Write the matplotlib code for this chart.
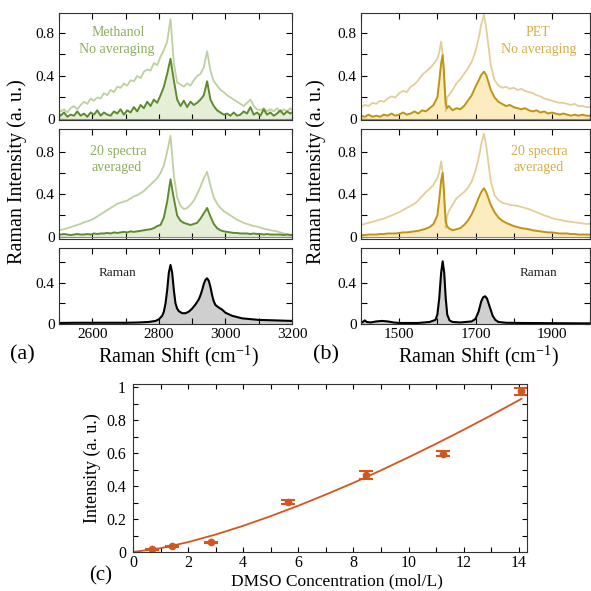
import matplotlib
matplotlib.use('Agg')
import matplotlib.pyplot as plt
import numpy as np
from matplotlib.ticker import FixedLocator, FuncFormatter, MultipleLocator

plt.rcParams['font.family'] = ['Liberation Serif', 'DejaVu Serif']
plt.rcParams['mathtext.fontset'] = 'custom'
plt.rcParams['mathtext.rm'] = 'Liberation Serif'
plt.rcParams['mathtext.default'] = 'regular'

# ---------------- Panel (a): methanol ----------------
a_x = np.concatenate([[2500], np.arange(2505, 3200, 10), [3200]])
a_top_light = [0.08, 0.07, 0.09, 0.06, 0.10, 0.12, 0.09, 0.13, 0.16, 0.14, 0.19, 0.17, 0.20, 0.19, 0.24, 0.22,
               0.27, 0.25, 0.30, 0.29, 0.33, 0.31, 0.36, 0.35, 0.40, 0.38, 0.44, 0.46, 0.45, 0.52, 0.50, 0.58,
               0.64, 0.72, 0.93, 0.52, 0.34, 0.32, 0.30, 0.33, 0.31, 0.36, 0.40, 0.42, 0.48, 0.63, 0.45, 0.35,
               0.31, 0.27, 0.25, 0.22, 0.20, 0.18, 0.16, 0.14, 0.12, 0.15, 0.18, 0.12, 0.09, 0.08, 0.10, 0.07,
               0.09, 0.07, 0.10, 0.06, 0.09, 0.07, 0.10, 0.08]
a_top_dark = [0.05, 0.03, 0.06, 0.02, 0.04, 0.03, 0.07, 0.03, 0.05, 0.02, 0.06, 0.04, 0.08, 0.03, 0.06, 0.04,
              0.03, 0.07, 0.05, 0.09, 0.04, 0.08, 0.06, 0.11, 0.07, 0.13, 0.10, 0.16, 0.12, 0.18, 0.15, 0.22,
              0.30, 0.42, 0.56, 0.36, 0.18, 0.12, 0.17, 0.11, 0.16, 0.13, 0.15, 0.18, 0.22, 0.35, 0.18, 0.12,
              0.08, 0.06, 0.04, 0.05, 0.03, 0.06, 0.03, 0.04, 0.07, 0.05, 0.11, 0.04, 0.06, 0.03, 0.09, 0.04,
              0.06, 0.03, 0.05, 0.08, 0.04, 0.07, 0.05, 0.06]
a_mid_light = [0.06, 0.065, 0.07, 0.08, 0.09, 0.10, 0.11, 0.12, 0.135, 0.145, 0.155, 0.17, 0.19, 0.21, 0.23, 0.25,
               0.27, 0.29, 0.31, 0.32, 0.33, 0.34, 0.36, 0.38, 0.39, 0.41, 0.43, 0.46, 0.49, 0.52, 0.55, 0.60,
               0.67, 0.80, 0.95, 0.58, 0.37, 0.29, 0.26, 0.27, 0.30, 0.34, 0.40, 0.47, 0.55, 0.61, 0.48, 0.37,
               0.31, 0.27, 0.24, 0.22, 0.20, 0.18, 0.16, 0.145, 0.13, 0.12, 0.11, 0.10, 0.095, 0.085, 0.075, 0.07,
               0.06, 0.055, 0.05, 0.04, 0.03, 0.025, 0.02, 0.02]
a_mid_dark = [0.02, 0.02, 0.025, 0.02, 0.015, 0.02, 0.025, 0.02, 0.02, 0.025, 0.02, 0.03, 0.025, 0.03, 0.03, 0.035,
              0.03, 0.04, 0.035, 0.04, 0.045, 0.04, 0.05, 0.045, 0.05, 0.055, 0.06, 0.065, 0.07, 0.08, 0.10, 0.11,
              0.18, 0.33, 0.54, 0.36, 0.20, 0.15, 0.13, 0.12, 0.11, 0.12, 0.13, 0.17, 0.22, 0.27, 0.19, 0.12,
              0.08, 0.06, 0.05, 0.045, 0.04, 0.035, 0.035, 0.03, 0.03, 0.03, 0.025, 0.03, 0.025, 0.025, 0.02, 0.025,
              0.02, 0.02, 0.02, 0.02, 0.015, 0.02, 0.015, 0.015]
a_raman_x = [2500, 2550, 2600, 2650, 2700, 2740, 2770, 2790, 2800, 2810, 2815, 2820, 2825, 2830, 2835, 2840, 2845,
             2850, 2855, 2860, 2870, 2880, 2890, 2900, 2910, 2920, 2925, 2930, 2935, 2940, 2945, 2950, 2955, 2960,
             2965, 2970, 2980, 2990, 3000, 3020, 3050, 3100, 3150, 3200]
a_raman_y = [0.01, 0.012, 0.012, 0.012, 0.012, 0.015, 0.02, 0.03, 0.045, 0.08, 0.12, 0.2, 0.33, 0.5, 0.575, 0.5,
             0.33, 0.2, 0.15, 0.125, 0.105, 0.105, 0.12, 0.15, 0.19, 0.24, 0.28, 0.33, 0.39, 0.43, 0.445, 0.42,
             0.36, 0.28, 0.22, 0.185, 0.16, 0.14, 0.11, 0.08, 0.055, 0.04, 0.035, 0.03]

# ---------------- Panel (b): PET ----------------
b_x = [1400, 1410, 1420, 1430, 1440, 1450, 1460, 1470, 1480, 1490, 1500, 1510, 1520, 1530, 1540, 1550, 1560, 1570,
       1580, 1590, 1600, 1605, 1610, 1614, 1617, 1620, 1622, 1625, 1630, 1640, 1650, 1660, 1670, 1680, 1690, 1700,
       1710, 1715, 1722, 1728, 1735, 1740, 1750, 1760, 1770, 1780, 1790, 1800, 1810, 1820, 1830, 1840, 1850, 1860,
       1870, 1880, 1890, 1900, 1910, 1920, 1930, 1940, 1950, 1960, 1970, 1980, 1990, 2000]
b_top_light = [0.11, 0.13, 0.12, 0.15, 0.14, 0.17, 0.16, 0.19, 0.21, 0.20, 0.24, 0.26, 0.25, 0.30, 0.32, 0.36, 0.41,
               0.44, 0.47, 0.51, 0.56, 0.62, 0.72, 0.60, 0.45, 0.25, 0.07, 0.20, 0.22, 0.27, 0.33, 0.37, 0.42, 0.47,
               0.53, 0.63, 0.78, 0.88, 0.97, 0.85, 0.65, 0.50, 0.36, 0.31, 0.29, 0.30, 0.28, 0.29, 0.27, 0.28, 0.26,
               0.25, 0.24, 0.22, 0.21, 0.19, 0.18, 0.17, 0.16, 0.15, 0.15, 0.14, 0.13, 0.14, 0.12, 0.12, 0.11, 0.11]
b_top_dark = [0.03, 0.02, 0.04, 0.02, 0.03, 0.02, 0.04, 0.03, 0.05, 0.03, 0.04, 0.06, 0.04, 0.05, 0.07, 0.05, 0.08,
              0.07, 0.10, 0.13, 0.20, 0.35, 0.52, 0.595, 0.45, 0.25, 0.15, 0.10, 0.12, 0.08, 0.10, 0.09, 0.12, 0.17,
              0.22, 0.30, 0.37, 0.41, 0.44, 0.41, 0.33, 0.27, 0.20, 0.16, 0.14, 0.12, 0.13, 0.11, 0.10, 0.09, 0.10,
              0.08, 0.07, 0.08, 0.06, 0.07, 0.05, 0.06, 0.05, 0.04, 0.05, 0.04, 0.03, 0.04, 0.03, 0.04, 0.03, 0.03]
b_mid_light = [0.11, 0.12, 0.13, 0.14, 0.15, 0.16, 0.17, 0.185, 0.20, 0.215, 0.23, 0.25, 0.27, 0.29, 0.31, 0.34, 0.38,
               0.42, 0.45, 0.49, 0.55, 0.61, 0.71, 0.60, 0.42, 0.22, 0.08, 0.19, 0.24, 0.30, 0.36, 0.39, 0.42, 0.46,
               0.52, 0.62, 0.77, 0.87, 0.97, 0.86, 0.66, 0.52, 0.39, 0.345, 0.32, 0.31, 0.30, 0.295, 0.29, 0.28,
               0.27, 0.26, 0.245, 0.23, 0.215, 0.20, 0.19, 0.175, 0.165, 0.16, 0.15, 0.145, 0.14, 0.135, 0.13,
               0.125, 0.12, 0.12]
b_mid_dark = [0.015, 0.015, 0.02, 0.02, 0.02, 0.025, 0.025, 0.03, 0.03, 0.03, 0.035, 0.04, 0.04, 0.045, 0.05, 0.055,
              0.065, 0.075, 0.09, 0.12, 0.2, 0.35, 0.53, 0.60, 0.45, 0.25, 0.15, 0.10, 0.08, 0.06, 0.07, 0.08, 0.11,
              0.15, 0.21, 0.29, 0.38, 0.42, 0.455, 0.42, 0.35, 0.30, 0.23, 0.18, 0.15, 0.13, 0.115, 0.10, 0.09,
              0.08, 0.075, 0.07, 0.06, 0.055, 0.05, 0.045, 0.04, 0.04, 0.035, 0.03, 0.03, 0.03, 0.025, 0.025,
              0.02, 0.02, 0.02, 0.02]
b_raman_x = [1400, 1405, 1410, 1415, 1425, 1440, 1455, 1470, 1485, 1500, 1550, 1580, 1595, 1600, 1605, 1610, 1614,
             1618, 1622, 1626, 1632, 1640, 1660, 1690, 1700, 1708, 1715, 1720, 1725, 1730, 1737, 1745, 1752, 1760,
             1780, 1820, 1900, 2000]
b_raman_y = [0.01, 0.02, 0.035, 0.02, 0.015, 0.025, 0.03, 0.025, 0.015, 0.01, 0.01, 0.02, 0.04, 0.09, 0.25, 0.5,
             0.61, 0.5, 0.25, 0.09, 0.035, 0.02, 0.015, 0.025, 0.05, 0.12, 0.22, 0.26, 0.27, 0.25, 0.17, 0.08,
             0.04, 0.02, 0.012, 0.01, 0.008, 0.006]

# ---------------- Panel (c): DMSO ----------------
c_conc = [0.70, 1.41, 2.82, 5.63, 8.45, 11.26, 14.08]
c_int = [0.016, 0.034, 0.058, 0.302, 0.467, 0.597, 0.975]
c_err = [0.005, 0.005, 0.005, 0.012, 0.025, 0.014, 0.02]
fit_x = [0, 1, 2, 3, 4, 5, 6, 7, 8, 9, 10, 11, 12, 13, 14, 14.1]
fit_y = [0.0, 0.023, 0.060, 0.106, 0.159, 0.218, 0.281, 0.349, 0.420, 0.496, 0.575, 0.657, 0.742, 0.830,
         0.921, 0.93]

# colours
G_DARK, G_LIGHT, G_FILL, G_TEXT = '#5e8b2e', '#bdd0a0', '#e5efd8', '#8dad5e'
Y_DARK, Y_LIGHT, Y_FILL, Y_TEXT = '#bf9414', '#e2cf98', '#fdecc0', '#d5ae48'
ORANGE = '#d4561f'

W = H = 591
fig = plt.figure(figsize=(5.91, 5.91), dpi=100)


def add_ax(l, t, r, b):
    return fig.add_axes([l / W, 1 - b / H, (r - l) / W, (b - t) / H])


def ylab_fmt(shown):
    def f(v, pos):
        for s in shown:
            if abs(v - s) < 1e-6:
                return ('%g' % s)
        return ''
    return FuncFormatter(f)


def style(ax, xlim, ylim, xticks, yticks, shown, labelbottom):
    ax.set_xlim(*xlim)
    ax.set_ylim(*ylim)
    ax.xaxis.set_major_locator(FixedLocator(xticks))
    ax.yaxis.set_major_locator(FixedLocator(yticks))
    ax.yaxis.set_major_formatter(ylab_fmt(shown))
    ax.tick_params(direction='in', top=True, right=True, length=4, width=0.8, labelsize=11,
                   labelbottom=labelbottom, pad=3)
    for s in ax.spines.values():
        s.set_linewidth(0.8)
        s.set_color('#333333')


def spectra_panel(l, r, xlim, xticks, x, light_top, dark_top, light_mid, dark_mid, rx, ry,
                  cdark, clight, cfill):
    ax1 = add_ax(l, 13, r, 120)
    ax1.fill_between(x, 0, dark_top, color=cfill, lw=0)
    ax1.axhline(0, color='#8a8a8a', lw=0.8)
    ax1.plot(x, light_top, color=clight, lw=1.3)
    ax1.plot(x, dark_top, color=cdark, lw=1.4)
    style(ax1, xlim, (-0.01, 0.986), xticks, [0, 0.2, 0.4, 0.6, 0.8], [0, 0.4, 0.8], False)

    ax2 = add_ax(l, 129, r, 239)
    ax2.fill_between(x, 0, dark_mid, color=cfill, lw=0)
    ax2.axhline(0, color='#8a8a8a', lw=0.8)
    ax2.plot(x, light_mid, color=clight, lw=1.3)
    ax2.plot(x, dark_mid, color=cdark, lw=1.4)
    style(ax2, xlim, (-0.022, 1.014), xticks, [0, 0.2, 0.4, 0.6, 0.8], [0, 0.4, 0.8], False)

    ax3 = add_ax(l, 248, r, 324)
    ax3.fill_between(rx, 0, ry, color='#cfcfcf', lw=0)
    ax3.plot(rx, ry, color='black', lw=1.5)
    style(ax3, xlim, (0, 0.74), xticks, [0, 0.2, 0.4, 0.6], [0, 0.4], True)
    return ax1, ax2, ax3


# (a)
a1, a2, a3 = spectra_panel(59, 292, (2500, 3200), np.arange(2500, 3201, 100), a_x,
                           a_top_light, a_top_dark, a_mid_light, a_mid_dark, a_raman_x, a_raman_y,
                           G_DARK, G_LIGHT, G_FILL)
a3.xaxis.set_major_formatter(FuncFormatter(lambda v, p: '%d' % v if int(v) % 200 == 0 else ''))
# (b)
b1, b2, b3 = spectra_panel(361, 590, (1400, 2000), np.arange(1400, 2001, 100), b_x,
                           b_top_light, b_top_dark, b_mid_light, b_mid_dark, b_raman_x, b_raman_y,
                           Y_DARK, Y_LIGHT, Y_FILL)
b3.xaxis.set_major_formatter(FuncFormatter(lambda v, p: '%d' % v if int(v) % 200 == 100 else ''))


def ftext(x, y, s, **kw):
    fig.text(x / W, 1 - y / H, s, ha='center', va='center', **kw)


ftext(118, 33, 'Methanol', color=G_TEXT, fontsize=10)
ftext(117, 50, 'No averaging', color=G_TEXT, fontsize=10)
ftext(118, 152, '20 spectra', color=G_TEXT, fontsize=10)
ftext(117, 168, 'averaged', color=G_TEXT, fontsize=10)
ftext(117, 273, 'Raman', color='#222222', fontsize=9.5)

ftext(538, 33, 'PET', color=Y_TEXT, fontsize=10)
ftext(539, 50, 'No averaging', color=Y_TEXT, fontsize=10)
ftext(539, 152, '20 spectra', color=Y_TEXT, fontsize=10)
ftext(539, 168, 'averaged', color=Y_TEXT, fontsize=10)
ftext(538, 273, 'Raman', color='#222222', fontsize=9.5)

ftext(178, 356, 'Raman Shift (cm$^{-1}$)', fontsize=14.5)
ftext(478, 356, 'Raman Shift (cm$^{-1}$)', fontsize=14.5)
ftext(17, 172, 'Raman Intensity (a. u.)', fontsize=14.5, rotation=90)
ftext(316, 172, 'Raman Intensity (a. u.)', fontsize=14.5, rotation=90)
ftext(22, 355, '(a)', fontsize=16)
ftext(326, 355, '(b)', fontsize=16)
ftext(101, 576, '(c)', fontsize=15)

# (c)
axc = add_ax(133, 384, 527, 552)
axc.plot(fit_x, fit_y, color=ORANGE, lw=1.3)
axc.errorbar(c_conc, c_int, yerr=c_err, fmt='o', ms=4.5, color=ORANGE, ecolor=ORANGE,
             capsize=5, capthick=1.5, elinewidth=1.2)
axc.set_xlim(0, 14.3)
axc.set_ylim(0, 1.02)
axc.xaxis.set_major_locator(MultipleLocator(2))
axc.xaxis.set_minor_locator(MultipleLocator(1))
axc.yaxis.set_major_locator(FixedLocator([0, 0.2, 0.4, 0.6, 0.8, 1.0]))
axc.yaxis.set_minor_locator(MultipleLocator(0.1))
axc.yaxis.set_major_formatter(FuncFormatter(lambda v, p: '%g' % round(v, 1)))
axc.tick_params(which='both', direction='in', top=True, right=True, length=3.5, width=0.8, labelsize=11.5)
axc.tick_params(axis='x', pad=2)
axc.tick_params(axis='y', pad=5)
for s in axc.spines.values():
    s.set_linewidth(0.8)
    s.set_color('#333333')
ftext(337, 581, 'DMSO Concentration (mol/L)', fontsize=12.5)
ftext(92, 468, 'Intensity (a. u.)', fontsize=13, rotation=90)

fig.savefig('out.png', dpi=100)
